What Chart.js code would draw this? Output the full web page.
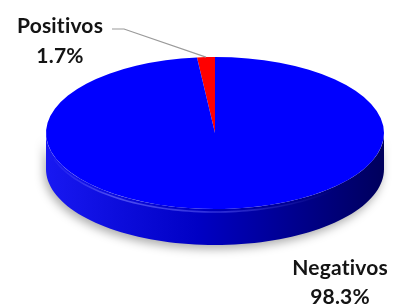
<!DOCTYPE html>
<html>
<head>
<meta charset="utf-8">
<script src="https://cdn.jsdelivr.net/npm/chart.js@4/dist/chart.umd.min.js"></script>
<style>
  html, body { margin: 0; padding: 0; background: #fff; }
  #wrap { width: 397px; height: 304px; }
</style>
</head>
<body>
<div id="wrap"><canvas id="pie" width="397" height="304"></canvas></div>
<script>
// data
const labels = ['Positivos', 'Negativos'];
const values = [1.7, 98.3];
const colors = ['#ff0000', '#0000ff'];

// 3D look: ellipse centre, half axes and thickness on screen
const CX = 215, CY = 133, RX = 169, RY = 76, DEPTH = 36;

function ellPt(t, dy) {
  return [CX + RX * Math.cos(t), CY + RY * Math.sin(t) + (dy || 0)];
}

const pie3d = {
  id: 'pie3d',
  beforeDatasetsDraw(chart) {
    const ctx = chart.ctx;
    const arcs = chart.getDatasetMeta(0).data;

    // side walls (front half only)
    arcs.forEach((arc, i) => {
      let a = arc.startAngle, b = arc.endAngle;
      while (a < 0) { a += Math.PI * 2; b += Math.PI * 2; }
      const s = Math.max(a, 0), e = Math.min(b, Math.PI);
      const s2 = Math.max(a, Math.PI * 2), e2 = Math.min(b, Math.PI * 3);
      [[s, e], [s2, e2]].forEach(([p, q]) => {
        if (q <= p) return;
        ctx.save();
        const g = ctx.createLinearGradient(CX - RX, 0, CX + RX, 0);
        if (i === 1) {
          g.addColorStop(0, '#1818f2');
          g.addColorStop(0.45, '#0000c4');
          g.addColorStop(1, '#00005c');
        } else {
          g.addColorStop(0, '#e00000');
          g.addColorStop(1, '#700000');
        }
        ctx.beginPath();
        const steps = 80;
        for (let k = 0; k <= steps; k++) {
          const t = p + (q - p) * k / steps;
          const [x, y] = ellPt(t, 0);
          k === 0 ? ctx.moveTo(x, y) : ctx.lineTo(x, y);
        }
        for (let k = steps; k >= 0; k--) {
          const t = p + (q - p) * k / steps;
          const [x, y] = ellPt(t, DEPTH);
          ctx.lineTo(x, y);
        }
        ctx.closePath();
        ctx.shadowColor = 'rgba(0,0,0,0.32)';
        ctx.shadowBlur = 10;
        ctx.shadowOffsetX = -2;
        ctx.shadowOffsetY = 4;
        ctx.fillStyle = g;
        ctx.fill();
        ctx.restore();
      });
    });

    // squash the library's round pie into the top ellipse
    const ref = arcs[0];
    const r = ref.outerRadius;
    ctx.save();
    ctx.translate(CX, CY);
    ctx.scale(RX / r, RY / r);
    ctx.translate(-ref.x, -ref.y);
  },
  afterDatasetsDraw(chart) {
    const ctx = chart.ctx;
    ctx.restore();

    // soft highlight along the front rim
    ctx.save();
    const hl = ctx.createLinearGradient(CX - RX, 0, CX + RX, 0);
    hl.addColorStop(0, 'rgba(120,120,255,0.0)');
    hl.addColorStop(0.2, 'rgba(120,120,255,0.6)');
    hl.addColorStop(0.55, 'rgba(110,110,255,0.4)');
    hl.addColorStop(0.85, 'rgba(90,90,220,0.0)');
    ctx.strokeStyle = hl;
    ctx.lineWidth = 1.6;
    ctx.beginPath();
    for (let k = 0; k <= 80; k++) {
      const t = 0.1 * Math.PI + 0.8 * Math.PI * k / 80;
      const [x, y] = ellPt(t, 3);
      k === 0 ? ctx.moveTo(x, y) : ctx.lineTo(x, y);
    }
    ctx.stroke();
    ctx.restore();

    // labels
    const arcs = chart.getDatasetMeta(0).data;
    const total = values.reduce((s, v) => s + v, 0);
    ctx.save();
    ctx.font = 'bold 21px Lato, "Open Sans", sans-serif';
    ctx.letterSpacing = '0.2px'; // keeps Lato from joining "ti"
    ctx.fillStyle = '#141414';
    ctx.textAlign = 'center';
    ctx.textBaseline = 'middle';

    // Positivos: top-left with leader line
    const a0 = arcs[0];
    const mid = (a0.startAngle + a0.endAngle) / 2;
    const [lx, ly] = ellPt(mid, 0);
    ctx.strokeStyle = '#9a9a9a';
    ctx.lineWidth = 1.2;
    ctx.beginPath();
    ctx.moveTo(112, 29);
    ctx.lineTo(124, 29);
    ctx.lineTo(lx, ly);
    ctx.stroke();
    ctx.fillText(labels[0], 60, 26);
    ctx.fillText((values[0] / total * 100).toFixed(1) + '%', 60, 56);

    // Negativos: bottom-right
    ctx.fillText(labels[1], 340, 268);
    ctx.fillText((values[1] / total * 100).toFixed(1) + '%', 340, 297);
    ctx.restore();
  }
};

new Chart(document.getElementById('pie'), {
  type: 'pie',
  data: {
    labels: labels,
    datasets: [{
      data: values,
      backgroundColor: colors,
      borderWidth: 0
    }]
  },
  options: {
    responsive: false,
    animation: false,
    rotation: -values[0] / 100 * 360,
    plugins: {
      legend: { display: false },
      tooltip: { enabled: false }
    }
  },
  plugins: [pie3d]
});
</script>
</body>
</html>
